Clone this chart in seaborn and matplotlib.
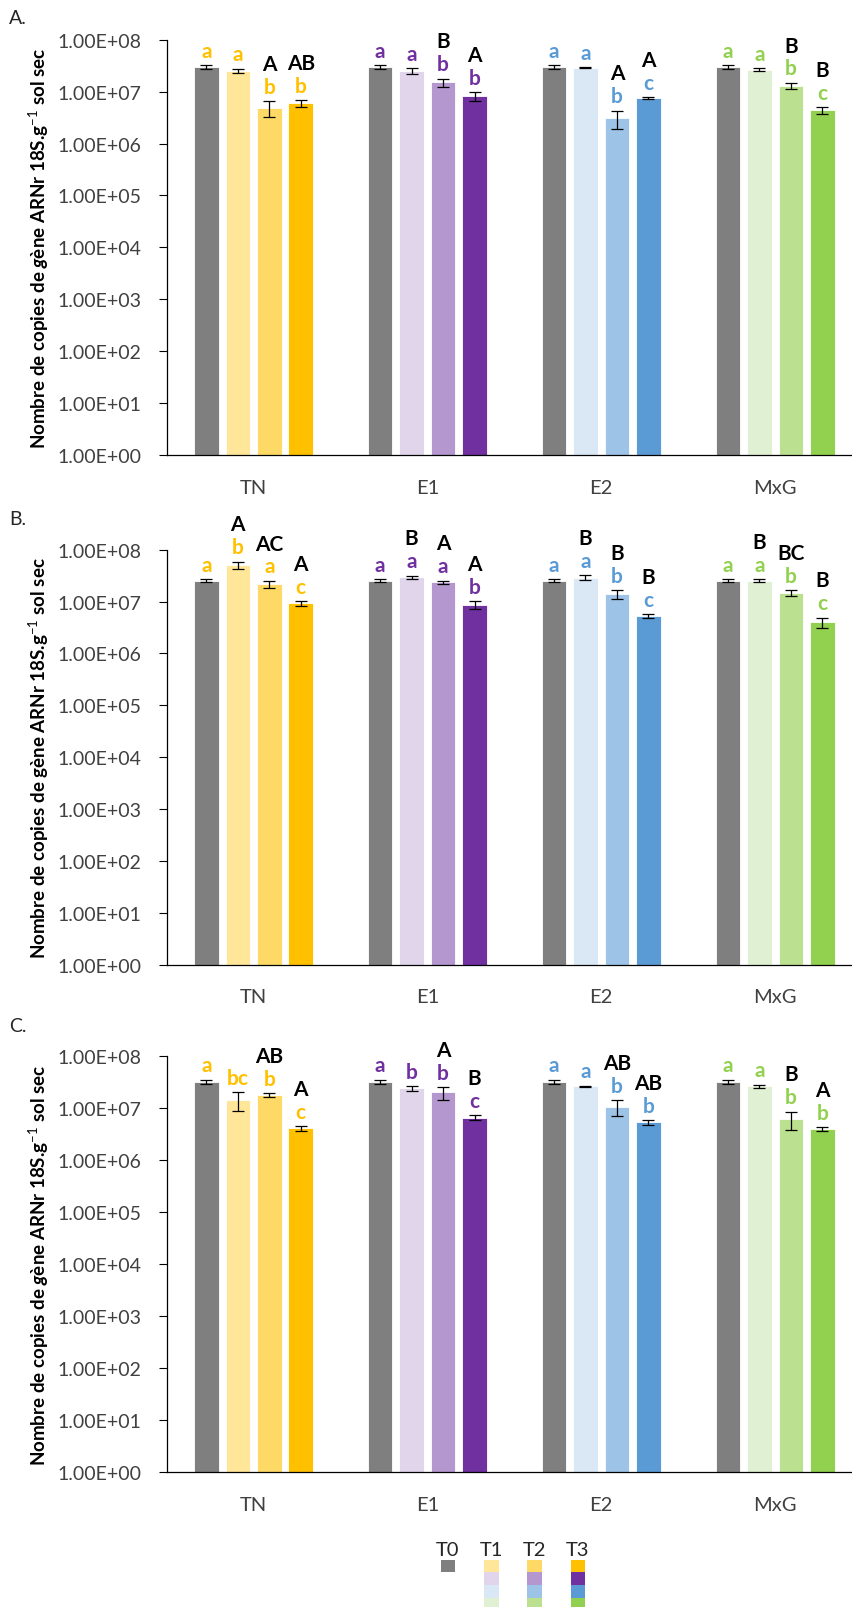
import numpy as np
import pandas as pd
import matplotlib.pyplot as plt
import seaborn as sns
from matplotlib.ticker import FixedLocator, FuncFormatter, NullLocator

sns.set_style('ticks')
plt.rcParams['font.family'] = ['Lato', 'DejaVu Sans']
plt.rcParams['mathtext.fontset'] = 'custom'
plt.rcParams['mathtext.rm'] = 'Lato'
plt.rcParams['mathtext.it'] = 'Lato:italic:bold'
plt.rcParams['mathtext.bf'] = 'Lato:bold'

groups = ['TN', 'E1', 'E2', 'MxG']
times = ['T0', 'T1', 'T2', 'T3']

# means (rows = groups, cols = T0..T3), copies / g dry soil
means_A = [[2.94e7, 2.53e7, 4.9e6, 5.96e6],
           [2.94e7, 2.50e7, 1.51e7, 8.3e6],
           [2.94e7, 2.90e7, 3.1e6, 7.5e6],
           [2.94e7, 2.64e7, 1.30e7, 4.36e6]]
err_A = [[2.5e6, 2.2e6, 1.6e6, 8e5],
         [2.5e6, 3.0e6, 2.6e6, 1.6e6],
         [2.5e6, 1.0e6, 1.2e6, 3e5],
         [2.5e6, 1.5e6, 1.8e6, 6e5]]
low_A = [['a', 'a', 'b', 'b'], ['a', 'a', 'b', 'b'], ['a', 'a', 'b', 'c'], ['a', 'a', 'b', 'c']]
up_A = [['', '', 'A', 'AB'], ['', '', 'B', 'A'], ['', '', 'A', 'A'], ['', '', 'B', 'B']]

means_B = [[2.54e7, 5.08e7, 2.19e7, 9.3e6],
           [2.54e7, 2.94e7, 2.36e7, 8.75e6],
           [2.54e7, 2.90e7, 1.39e7, 5.24e6],
           [2.54e7, 2.54e7, 1.47e7, 4.02e6]]
err_B = [[2.0e6, 8.0e6, 3.3e6, 9e5],
         [2.0e6, 2.4e6, 1.8e6, 1.5e6],
         [2.0e6, 3.0e6, 2.5e6, 5e5],
         [2.0e6, 1.5e6, 1.8e6, 9e5]]
low_B = [['a', 'b', 'a', 'c'], ['a', 'a', 'a', 'b'], ['a', 'a', 'b', 'c'], ['a', 'a', 'b', 'c']]
up_B = [['', 'A', 'AC', 'A'], ['', 'B', 'A', 'A'], ['', 'B', 'B', 'B'], ['', 'B', 'BC', 'B']]

means_C = [[3.2e7, 1.44e7, 1.78e7, 4.07e6],
           [3.2e7, 2.39e7, 2.0e7, 6.5e6],
           [3.2e7, 2.6e7, 1.06e7, 5.3e6],
           [3.2e7, 2.6e7, 6.14e6, 3.95e6]]
err_C = [[3.0e6, 5.7e6, 1.5e6, 4.5e5],
         [3.0e6, 2.5e6, 5.5e6, 7.5e5],
         [3.0e6, 1.0e6, 3.5e6, 5e5],
         [3.0e6, 2.0e6, 2.4e6, 3e5]]
low_C = [['a', 'bc', 'b', 'c'], ['a', 'b', 'b', 'c'], ['a', 'a', 'b', 'b'], ['a', 'a', 'b', 'b']]
up_C = [['', '', 'AB', 'A'], ['', '', 'A', 'B'], ['', '', 'AB', 'AB'], ['', '', 'B', 'A']]

grey = '#7F7F7F'
pal = {'TN': ['#FFE699', '#FFD966', '#FFC000'],
       'E1': ['#E1D5EC', '#B497CF', '#7030A0'],
       'E2': ['#DAE7F5', '#9DC3E6', '#5B9BD5'],
       'MxG': ['#E0F0D2', '#BBE08F', '#92D050']}
letter_col = {'TN': '#FFC000', 'E1': '#7030A0', 'E2': '#5B9BD5', 'MxG': '#92D050'}

lab_it = r'Nombre de copies de $\mathit{g}$ène ARNr 18S.g$^{-1}$ sol sec'
lab_rm = r'Nombre de copies de gène ARNr 18S.g$^{-1}$ sol sec'

W, H = 853, 1608
fig = plt.figure(figsize=(W / 100, H / 100), dpi=100)

width = 0.724
pitch = width / 4


def draw_panel(ax, means, errs, low, up, ylabel):
    df = pd.DataFrame({'traitement': np.repeat(groups, 4),
                       'temps': times * 4,
                       'copies': np.ravel(means)})
    sns.barplot(data=df, x='traitement', y='copies', hue='temps',
                order=groups, hue_order=times, width=width, gap=0.22,
                errorbar=None, legend=False, ax=ax,
                edgecolor='white', linewidth=0.6)
    ax.set_yscale('log')
    for p in ax.patches:
        cx = p.get_x() + p.get_width() / 2
        gi = int(round(cx))
        hi = int(round((cx - gi) / pitch + 1.5))
        g = groups[gi]
        p.set_facecolor(grey if hi == 0 else pal[g][hi - 1])
        m, e = means[gi][hi], errs[gi][hi]
        ax.errorbar(cx, m, yerr=e, fmt='none', ecolor='black',
                    elinewidth=0.9, capsize=4, capthick=0.9)
        ax.annotate(low[gi][hi], (cx, m + e), xytext=(0, 6),
                    textcoords='offset points', ha='center', va='baseline',
                    color=letter_col[g], fontsize=15, fontweight='bold')
        if up[gi][hi]:
            ax.annotate(up[gi][hi], (cx, m + e), xytext=(0, 22.5),
                        textcoords='offset points', ha='center', va='baseline',
                        color='black', fontsize=15, fontweight='bold')
    ax.set_ylim(1, 1e8)
    ax.set_xlim(-0.5, 3.5)
    ax.yaxis.set_major_locator(FixedLocator([10.0 ** k for k in range(9)]))
    ax.yaxis.set_minor_locator(NullLocator())
    ax.yaxis.set_major_formatter(FuncFormatter(lambda v, pos: f'{v:.2E}'))
    ax.set_xlabel('')
    ax.set_ylabel(ylabel, fontsize=13.5, fontweight='bold', color='black')
    ax.yaxis.set_label_coords(-0.166, 0.5)
    ax.tick_params(axis='x', length=0, pad=17, labelsize=14.5, labelcolor='#404040')
    ax.tick_params(axis='y', length=5.8, width=0.8, pad=12.5, labelsize=14,
                   labelcolor='#404040', color='black')
    ax.spines['top'].set_visible(False)
    ax.spines['right'].set_visible(False)
    for s in ['left', 'bottom']:
        ax.spines[s].set_color('black')
        ax.spines[s].set_linewidth(0.9)


panels = [('A.', means_A, err_A, low_A, up_A, lab_it, 40.7, 456.0, 18.5),
          ('B.', means_B, err_B, low_B, up_B, lab_rm, 550.7, 965.7, 519.5),
          ('C.', means_C, err_C, low_C, up_C, lab_it, 1057.0, 1473.0, 1026.5)]

left, right = 166.6, 862.0
for tag, m, e, lo, upp, lab, top, bot, ty in panels:
    ax = fig.add_axes([left / W, (H - bot) / H, (right - left) / W, (bot - top) / H])
    draw_panel(ax, m, e, lo, upp, lab)
    fig.text(9 / W, 1 - ty / H, tag, fontsize=14, va='center', ha='left', color='#262626')

# legend built from the palette
legend_cols = [[grey]] + [[pal[g][h] for g in groups] for h in range(3)]
lax = fig.add_axes([426.3 / W, (H - 1611.6) / H, 173.3 / W, 51.1 / H])
for c, col in enumerate(legend_cols):
    for r, color in enumerate(col):
        lax.bar(c, 1, bottom=r, width=0.335, color=color, linewidth=0)
lax.set_xlim(-0.5, 3.5)
lax.set_ylim(4, 0)
lax.xaxis.tick_top()
lax.set_xticks(range(4))
lax.set_xticklabels(times, fontsize=14.5, color='#262626')
lax.tick_params(axis='x', length=0, pad=1)
lax.set_yticks([])
lax.patch.set_alpha(0)
for s in lax.spines.values():
    s.set_visible(False)

fig.savefig('out.png', dpi=100)
